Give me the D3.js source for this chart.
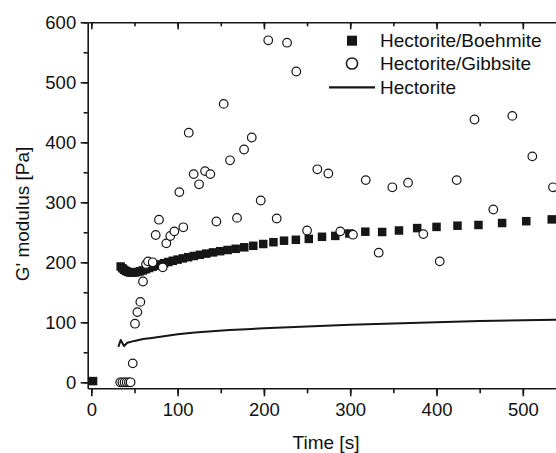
<!DOCTYPE html>
<html>
<head>
<meta charset="utf-8">
<script src="https://cdn.jsdelivr.net/npm/d3@7"></script>
<style>
  html, body { margin: 0; padding: 0; background: #fff; }
  svg { display: block; }
  text { font-family: "Liberation Sans", Arial, sans-serif; fill: #111; }
</style>
</head>
<body>
<svg id="chart" width="556" height="453"></svg>
<script>
// ---- data ----
const xTicks = [0, 100, 200, 300, 400, 500];
const xMinorTicks = [0, 50, 100, 150, 200, 250, 300, 350, 400, 450, 500];
const yTicks = [0, 100, 200, 300, 400, 500, 600];
const yMinorTicks = [0, 50, 100, 150, 200, 250, 300, 350, 400, 450, 500, 550, 600];

const seriesNames = ["Hectorite/Boehmite", "Hectorite/Gibbsite", "Hectorite"];

const boehmiteTime = [2, 34, 36, 38, 40.2, 42.5, 45, 47.6, 50.4, 53.4, 56.5, 59.8, 63.3, 67, 71, 75.2, 79.6, 84.3, 89.2, 94.4, 100, 106, 112.2, 118.8, 125.8, 133.2, 141, 149.3, 158, 167.3, 177.2, 187.7, 199.2, 211, 223.3, 237, 252, 267.3, 282.7, 299, 317.5, 337, 356.5, 377.6, 400, 424.3, 448.6, 476, 504, 533.5];
const boehmiteValue = [2, 193, 190, 187.5, 185.5, 184, 183, 182.8, 183, 183.8, 185, 186.5, 188.5, 190.5, 192.5, 194.5, 196.5, 198.5, 200.5, 202.5, 204.5, 206.5, 208.5, 210.5, 212.5, 214.5, 216.5, 218.5, 220.5, 222.5, 225, 227.5, 230.5, 233.5, 236, 237.5, 239, 242.5, 244, 248, 251, 250.5, 253, 257, 259, 261, 262.2, 265.5, 268.5, 271.5];

const gibbsiteTime = [33.5, 36, 38.5, 41, 43.5, 45.5, 48, 50.6, 53.3, 56.8, 59.9, 63.4, 65.7, 71.1, 74.6, 78.4, 82.7, 86.9, 91.5, 96.2, 102, 106.6, 112.9, 118.6, 124.8, 131.8, 137.9, 144.9, 153.4, 160.7, 168.8, 177, 185.9, 196.3, 205, 214.8, 226.8, 237.5, 250, 261.9, 274.6, 288.5, 303.2, 318, 333, 348.8, 367, 384.7, 403.7, 423.4, 444, 465.8, 487.8, 511, 535];
const gibbsiteValue = [0, 0, 0, 0, 0, 0, 31.6, 97.7, 117, 134, 168, 197, 201.6, 200, 245.5, 271, 191.6, 231.6, 243.8, 251.6, 317, 258.3, 416, 347, 330, 352, 347, 268, 464, 370, 274, 388, 408, 303, 570, 273, 566, 518, 253, 355, 348, 251.6, 246, 337, 216, 325, 332.7, 247, 201.6, 337, 438, 288, 444, 376.6, 325];

const hectoriteTime = [31.3, 34, 37.9, 41.7, 50, 60, 70, 80, 90, 100, 120, 140, 160, 180, 200, 250, 300, 350, 400, 450, 500, 545];
const hectoriteValue = [59, 70.5, 60.5, 66, 69, 72, 74, 76, 78, 80, 83, 85, 87, 88.5, 90, 93, 96, 98, 100, 102, 103.5, 104.5];

// ---- layout ----
const svg = d3.select("#chart");
const plotLeft = 87.7, plotTop = 22.3, plotBottom = 388.3;
const x = d3.scaleLinear().domain([-4.2, 545]).range([plotLeft, plotLeft + 549.2 * 0.863]);
const y = d3.scaleLinear().domain([-10, 600]).range([plotBottom, plotTop]);
const ink = "#161616";

function styleAxis(g, showDomain) {
  g.selectAll("path.domain").attr("stroke", ink).attr("stroke-width", 1.6).style("display", showDomain ? null : "none");
  g.selectAll(".tick line").attr("stroke", ink).attr("stroke-width", 1.6);
  g.selectAll(".tick text").style("font-size", "18.5px").attr("fill", ink);
}

// bottom axis: minor then major
svg.append("g").attr("transform", `translate(0,${plotBottom})`)
  .call(d3.axisBottom(x).tickValues(xMinorTicks).tickSize(5).tickSizeOuter(0).tickFormat(""))
  .call(g => styleAxis(g, true));
svg.append("g").attr("transform", `translate(0,${plotBottom})`)
  .call(d3.axisBottom(x).tickValues(xTicks).tickSize(8).tickPadding(7).tickSizeOuter(0).tickFormat(d3.format("d")))
  .call(g => styleAxis(g, false));

// top axis: inward ticks, no labels
svg.append("g").attr("transform", `translate(0,${plotTop})`)
  .call(d3.axisTop(x).tickValues(xMinorTicks).tickSize(-4).tickSizeOuter(0).tickFormat(""))
  .call(g => styleAxis(g, true));
svg.append("g").attr("transform", `translate(0,${plotTop})`)
  .call(d3.axisTop(x).tickValues(xTicks).tickSize(-7).tickSizeOuter(0).tickFormat(""))
  .call(g => styleAxis(g, false));

// left axis
svg.append("g").attr("transform", `translate(${plotLeft},0)`)
  .call(d3.axisLeft(y).tickValues(yMinorTicks).tickSize(4).tickSizeOuter(0).tickFormat(""))
  .call(g => styleAxis(g, true));
svg.append("g").attr("transform", `translate(${plotLeft},0)`)
  .call(d3.axisLeft(y).tickValues(yTicks).tickSize(7).tickPadding(4.5).tickSizeOuter(0).tickFormat(d3.format("d")))
  .call(g => styleAxis(g, false));

// axis titles
svg.append("text")
  .attr("transform", `translate(28.5,214) rotate(-90)`)
  .attr("text-anchor", "middle")
  .style("font-size", "19px")
  .text("G' modulus [Pa]");
svg.append("text")
  .attr("x", 326).attr("y", 448.5)
  .attr("text-anchor", "middle")
  .style("font-size", "19px")
  .text("Time [s]");

// ---- marks ----
const hectData = hectoriteTime.map((t, i) => [t, hectoriteValue[i]]);
svg.append("path")
  .datum(hectData)
  .attr("fill", "none")
  .attr("stroke", ink)
  .attr("stroke-width", 2)
  .attr("stroke-linejoin", "round")
  .attr("d", d3.line().x(d => x(d[0])).y(d => y(d[1])));

const sq = 8.5;
svg.append("g").selectAll("rect")
  .data(boehmiteTime.map((t, i) => [t, boehmiteValue[i]]))
  .join("rect")
  .attr("x", d => x(d[0]) - sq / 2)
  .attr("y", d => y(d[1]) - sq / 2)
  .attr("width", sq).attr("height", sq)
  .attr("fill", ink);

svg.append("g").selectAll("circle")
  .data(gibbsiteTime.map((t, i) => [t, gibbsiteValue[i]]))
  .join("circle")
  .attr("cx", d => x(d[0]))
  .attr("cy", d => y(d[1]))
  .attr("r", 4.3)
  .attr("fill", "#fff")
  .attr("stroke", ink)
  .attr("stroke-width", 1.2);

// ---- legend ----
const legend = svg.append("g");
const legX = 352, legTextX = 380;
const legY = [40.7, 63.5, 87.3];
legend.append("rect").attr("x", legX - 5).attr("y", legY[0] - 5).attr("width", 10).attr("height", 10).attr("fill", ink);
legend.append("circle").attr("cx", legX).attr("cy", legY[1]).attr("r", 5.6).attr("fill", "#fff").attr("stroke", ink).attr("stroke-width", 1.5);
legend.append("line").attr("x1", 329).attr("x2", 375).attr("y1", legY[2]).attr("y2", legY[2]).attr("stroke", ink).attr("stroke-width", 2.2);
legend.selectAll("text.leg")
  .data(seriesNames)
  .join("text")
  .attr("class", "leg")
  .attr("x", legTextX)
  .attr("y", (d, i) => legY[i] + 6.6)
  .style("font-size", "19px")
  .text(d => d);
</script>
</body>
</html>
